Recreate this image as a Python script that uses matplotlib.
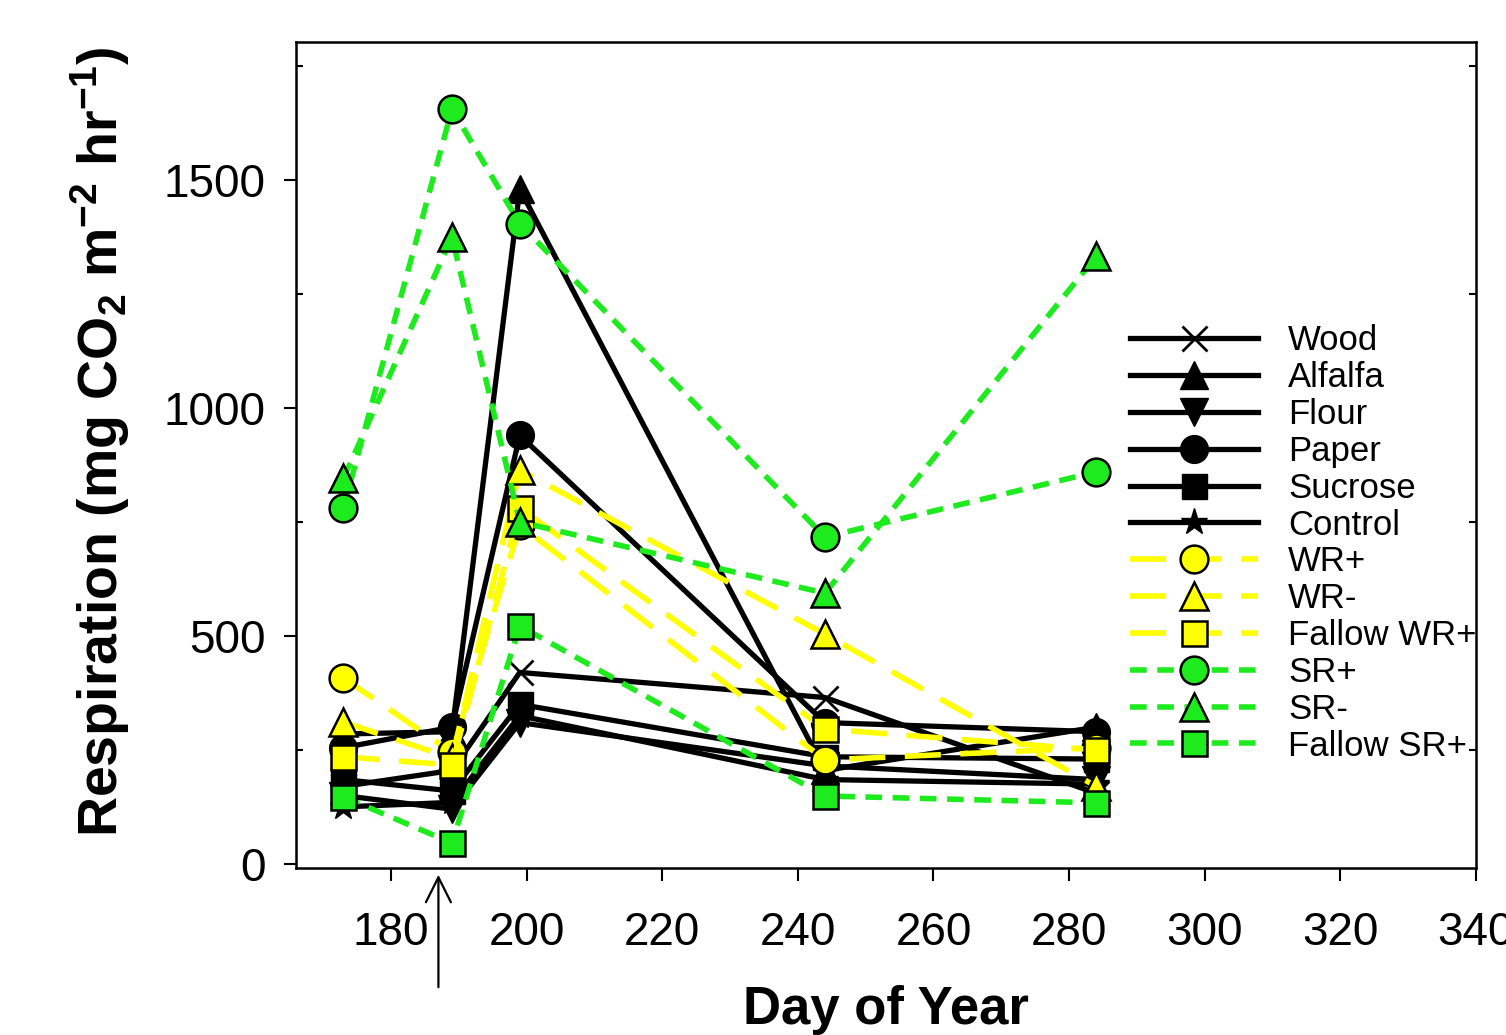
import matplotlib
matplotlib.use("Agg")
import matplotlib.pyplot as plt

plt.rcParams['font.family'] = ['Liberation Sans', 'DejaVu Sans']
plt.rcParams['mathtext.fontset'] = 'custom'
plt.rcParams['mathtext.rm'] = 'Liberation Sans:bold'
plt.rcParams['mathtext.bf'] = 'Liberation Sans:bold'
plt.rcParams['mathtext.it'] = 'Liberation Sans:bold'

# ---- data ----
days = [173, 189, 199, 244, 284]
wood = [170, 205, 420, 365, 155]
alfalfa = [285, 290, 1480, 205, 300]
flour = [150, 120, 310, 215, 185]
paper = [255, 300, 940, 310, 290]
sucrose = [185, 160, 350, 235, 230]
control = [125, 135, 325, 185, 175]
wr_plus = [408, 245, 743, 228, 255]
wr_minus = [311, 232, 864, 504, 170]
fallow_wr = [235, 217, 781, 296, 250]
sr_plus = [781, 1656, 1404, 717, 860]
sr_minus = [846, 1375, 750, 594, 1333]
fallow_sr = [147, 46, 522, 149, 134]

labels = ['Wood', 'Alfalfa', 'Flour', 'Paper', 'Sucrose', 'Control',
          'WR+', 'WR-', 'Fallow WR+', 'SR+', 'SR-', 'Fallow SR+']
x_ticks = [180, 200, 220, 240, 260, 280, 300, 320, 340]
y_ticks = [0, 500, 1000, 1500]
y_minor = [250, 750, 1250, 1750]
arrow_day = 187

YEL = '#FFFF00'
GRN = '#1EEB1E'

fig = plt.figure(figsize=(15.06, 10.35), dpi=100)
ax = fig.add_axes([296/1506, 1-868/1035, (1476-296)/1506, (868-42)/1035])

black_kw = dict(color='black', lw=3.8, linestyle='-')
yel_kw = dict(color=YEL, lw=4.0, dashes=(6.5, 3.5), mfc=YEL, mec='black', mew=1.8)
grn_kw = dict(color=GRN, lw=4.0, dashes=(3.0, 1.9), mfc=GRN, mec='black', mew=1.8)

ax.plot(days, wood, marker='x', ms=18, mew=2.0, mec='black', label=labels[0], **black_kw)
ax.plot(days, alfalfa, marker='^', ms=20, mfc='black', mec='black', label=labels[1], **black_kw)
ax.plot(days, flour, marker='v', ms=20, mfc='black', mec='black', label=labels[2], **black_kw)
ax.plot(days, paper, marker='o', ms=20, mfc='black', mec='black', label=labels[3], **black_kw)
ax.plot(days, sucrose, marker='s', ms=18, mfc='black', mec='black', label=labels[4], **black_kw)
ax.plot(days, control, marker='*', ms=20, mfc='black', mec='black', label=labels[5], **black_kw)
ax.plot(days, wr_plus, marker='o', ms=20, label=labels[6], **yel_kw)
ax.plot(days, wr_minus, marker='^', ms=20, label=labels[7], **yel_kw)
ax.plot(days, fallow_wr, marker='s', ms=18, label=labels[8], **yel_kw)
ax.plot(days, sr_plus, marker='o', ms=20, label=labels[9], **grn_kw)
ax.plot(days, sr_minus, marker='^', ms=20, label=labels[10], **grn_kw)
ax.plot(days, fallow_sr, marker='s', ms=18, label=labels[11], **grn_kw)

ax.set_xlim(166, 340)
ax.set_ylim(-9, 1803)
ax.set_xticks(x_ticks)
ax.set_yticks(y_ticks)
ax.set_yticks(y_minor, minor=True)
ax.tick_params(axis='both', which='major', direction='out', length=9, width=1.5,
               labelsize=33)
ax.tick_params(axis='y', which='major', pad=13)
ax.tick_params(axis='y', which='minor', direction='in', length=5, width=1.5,
               left=True, right=True)
ax.tick_params(axis='x', which='major', pad=22)
for sp in ax.spines.values():
    sp.set_linewidth(1.8)

fig.text(100/1506, 1-442/1035,
         r'Respiration (mg CO$_{2}$ m$^{-2}$ hr$^{-1}$)',
         rotation=90, ha='center', va='center', fontsize=40, fontweight='bold')
fig.text(886/1506, 1-1010/1035, 'Day of Year', ha='center', va='center',
         fontsize=38, fontweight='bold')

ax.annotate('', xy=(arrow_day, 1-872/1035), xytext=(arrow_day, 1-990/1035),
            xycoords=('data', 'figure fraction'), textcoords=('data', 'figure fraction'),
            arrowprops=dict(arrowstyle='->', lw=1.6, color='black', mutation_scale=45),
            annotation_clip=False)

leg = ax.legend(loc='center left', bbox_to_anchor=(1130/1506, 1-543.5/1035),
                bbox_transform=fig.transFigure, frameon=False, fontsize=25,
                handlelength=3.7, handletextpad=0.85, labelspacing=0.11,
                borderpad=0, borderaxespad=0, numpoints=1)

fig.savefig('out.png', dpi=100)
